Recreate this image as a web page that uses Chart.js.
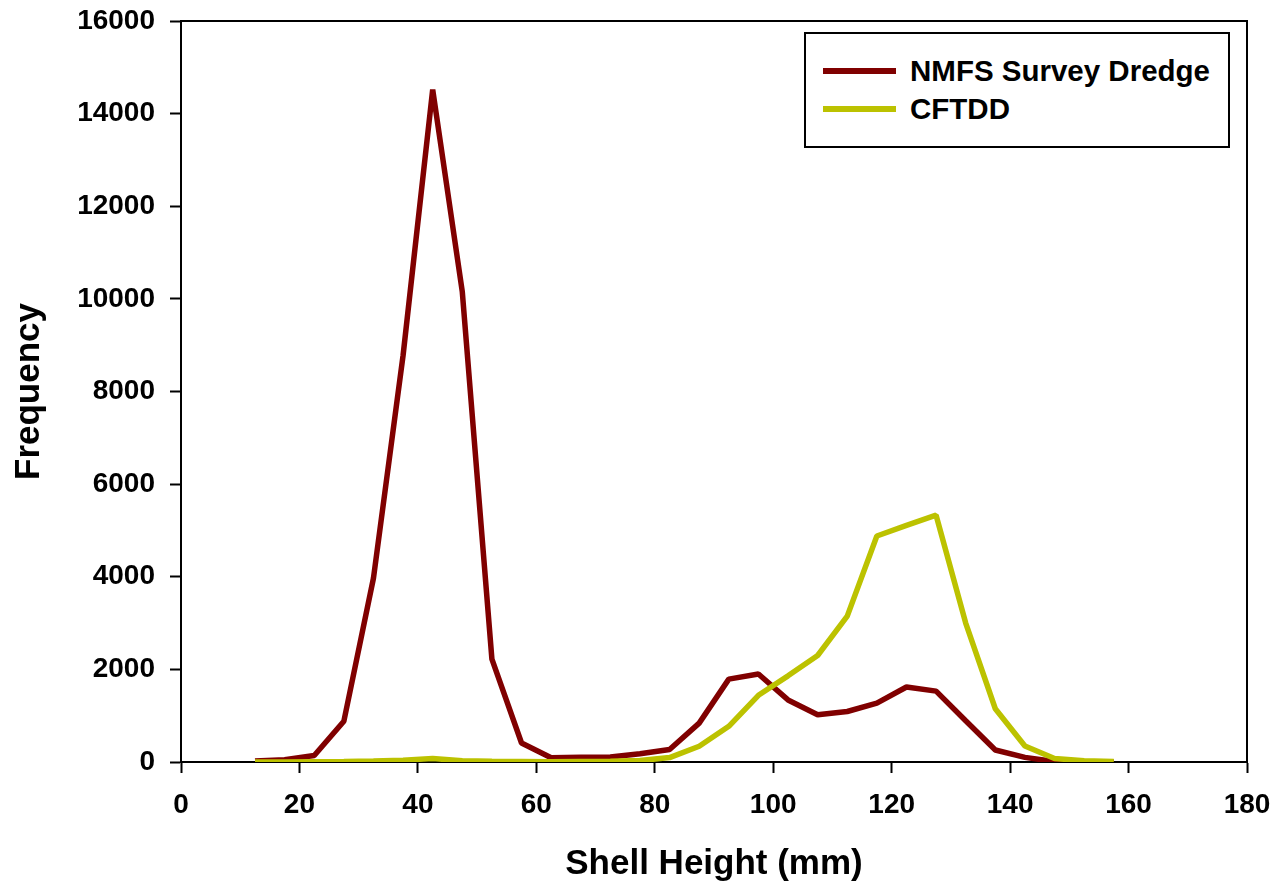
<!DOCTYPE html>
<html>
<head>
<meta charset="utf-8">
<script src="https://cdn.jsdelivr.net/npm/chart.js@4/dist/chart.umd.min.js"></script>
<style>
    body { margin: 0; background: #fff; }
    #wrap { position: relative; width: 1288px; height: 890px; }
    #legendBox {
        position: absolute; left: 804px; top: 32px; width: 426px; height: 116px;
        box-sizing: border-box; border: 2px solid #000; background: #fff;
        font-family: "Liberation Sans", Arial, sans-serif; font-weight: bold; font-size: 29.5px; color: #000;
    }
    .legendRow { position: absolute; left: 17px; height: 36px; display: flex; align-items: center; }
    .legendLine { width: 73px; height: 6px; margin-right: 14px; }
</style>
</head>
<body>
<div id="wrap">
    <canvas id="sizeChart" width="1288" height="890"></canvas>
    <div id="legendBox"></div>
</div>
<script>
// Shell height bin midpoints (mm)
const shellHeights = [12.5, 17.5, 22.5, 27.5, 32.5, 37.5, 42.5, 47.5, 52.5, 57.5,
    62.5, 67.5, 72.5, 77.5, 82.5, 87.5, 92.5, 97.5, 102.5, 107.5,
    112.5, 117.5, 122.5, 127.5, 132.5, 137.5, 142.5, 147.5, 152.5, 157.5];

// Frequency, NMFS survey dredge
const nmfsFreq = [20, 50, 140, 880, 3970, 8780, 14520, 10150, 2220, 410,
    90, 100, 110, 180, 270, 840, 1790, 1900, 1340, 1020,
    1090, 1270, 1620, 1530, 890, 260, 100, 10, 0, 0];

// Frequency, CFTDD
const cftddFreq = [0, 0, 5, 10, 20, 40, 75, 25, 15, 10,
    5, 10, 15, 30, 95, 340, 770, 1440, 1860, 2300,
    3150, 4880, 5110, 5330, 3000, 1150, 345, 75, 25, 10];

const seriesNames = ['NMFS Survey Dredge', 'CFTDD'];
const seriesColors = ['#800000', '#bcc200'];

const fontFamily = '"Liberation Sans", Arial, sans-serif';

function toPoints(values) {
    return shellHeights.map((x, i) => ({ x: x, y: values[i] }));
}

// Box border on top and right of the plot area
const plotFrame = {
    id: 'plotFrame',
    afterDraw(chart) {
        const { ctx, chartArea } = chart;
        ctx.save();
        ctx.strokeStyle = '#000';
        ctx.lineWidth = 2;
        ctx.beginPath();
        ctx.moveTo(chartArea.left, chartArea.top);
        ctx.lineTo(chartArea.right, chartArea.top);
        ctx.lineTo(chartArea.right, chartArea.bottom);
        ctx.stroke();
        ctx.restore();
    }
};

function createSizeChart() {
    const ctx = document.getElementById('sizeChart');
    const chart = new Chart(ctx, {
        type: 'line',
        data: {
            datasets: [
                {
                    label: seriesNames[0],
                    data: toPoints(nmfsFreq),
                    borderColor: seriesColors[0],
                    backgroundColor: seriesColors[0],
                    borderWidth: 5.5,
                    borderJoinStyle: 'bevel',
                    pointRadius: 0,
                    tension: 0,
                    order: 1
                },
                {
                    label: seriesNames[1],
                    data: toPoints(cftddFreq),
                    borderColor: seriesColors[1],
                    backgroundColor: seriesColors[1],
                    borderWidth: 5.5,
                    borderJoinStyle: 'bevel',
                    pointRadius: 0,
                    tension: 0,
                    order: 0
                }
            ]
        },
        options: {
            responsive: false,
            animation: false,
            layout: { padding: { top: 21, right: 41, left: 0, bottom: 0 } },
            plugins: {
                legend: { display: false },
                tooltip: { enabled: false }
            },
            scales: {
                x: {
                    type: 'linear',
                    min: 0,
                    max: 180,
                    afterFit: (scale) => {
                        scale.height = 128;
                        scale.paddingLeft = 0;
                        scale.paddingRight = 0;
                    },
                    ticks: {
                        stepSize: 20,
                        padding: 15,
                        color: '#000',
                        maxRotation: 0,
                        font: { family: fontFamily, size: 28, weight: 'bold' },
                        callback: (v) => String(v)
                    },
                    grid: { drawOnChartArea: false, tickLength: 11, tickColor: '#000', tickWidth: 2 },
                    border: { color: '#000', width: 2 },
                    title: {
                        display: true,
                        text: 'Shell Height (mm)',
                        color: '#000',
                        padding: { top: 0, bottom: 5 },
                        font: { family: fontFamily, size: 35, weight: 'bold' }
                    }
                },
                y: {
                    min: 0,
                    max: 16000,
                    afterFit: (scale) => {
                        scale.width = 181;
                        scale.paddingTop = 0;
                        scale.paddingBottom = 0;
                    },
                    ticks: {
                        stepSize: 2000,
                        padding: 15,
                        color: '#000',
                        font: { family: fontFamily, size: 28, weight: 'bold' },
                        callback: (v) => String(v)
                    },
                    grid: { drawOnChartArea: false, tickLength: 11, tickColor: '#000', tickWidth: 2 },
                    border: { color: '#000', width: 2 },
                    title: {
                        display: true,
                        text: 'Frequency',
                        color: '#000',
                        padding: { top: 8, bottom: 0 },
                        font: { family: fontFamily, size: 35, weight: 'bold' }
                    }
                }
            }
        },
        plugins: [plotFrame]
    });
    return chart;
}

// Legend box built from the chart datasets
function buildLegend(chart) {
    const box = document.getElementById('legendBox');
    const rowTops = [19, 57];
    chart.data.datasets.forEach((ds, i) => {
        const row = document.createElement('div');
        row.className = 'legendRow';
        row.style.top = rowTops[i] + 'px';
        const line = document.createElement('div');
        line.className = 'legendLine';
        line.style.background = ds.borderColor;
        const label = document.createElement('span');
        label.textContent = ds.label;
        row.appendChild(line);
        row.appendChild(label);
        box.appendChild(row);
    });
}

const sizeChart = createSizeChart();
buildLegend(sizeChart);
</script>
</body>
</html>
